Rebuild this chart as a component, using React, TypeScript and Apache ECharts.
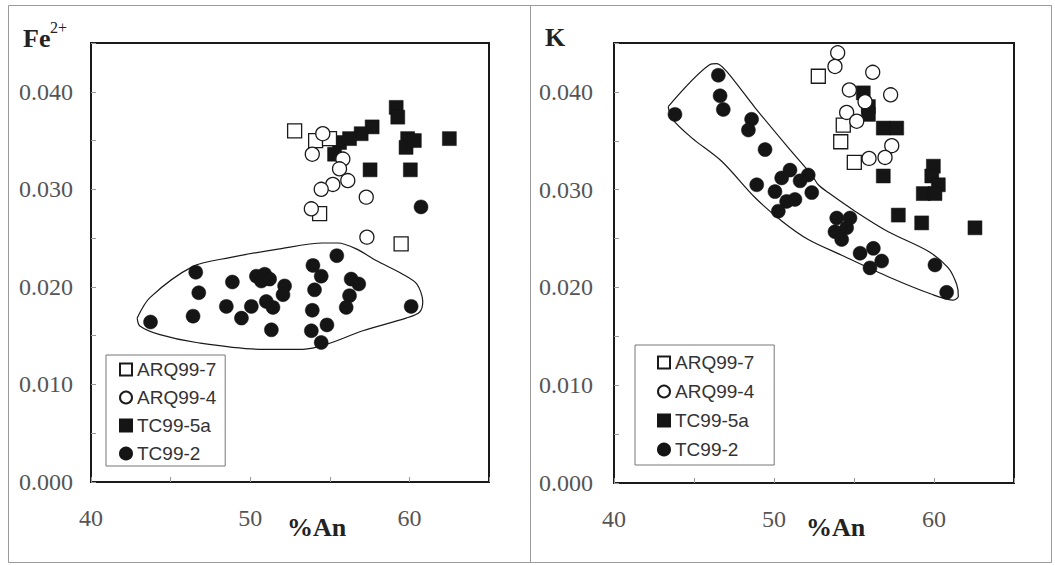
import { useEffect, useRef } from 'react';
import * as echarts from 'echarts';

// %An vs Fe2+ (left panel)
const feArq7 = [[52.79, 0.036], [54.11, 0.035], [54.98, 0.0352], [54.36, 0.0275], [59.48, 0.0244]];
const feArq4 = [
    [53.9, 0.0336], [54.56, 0.0357], [55.82, 0.0331], [55.61, 0.0321], [56.13, 0.0309],
    [55.19, 0.0305], [54.46, 0.03], [53.84, 0.028], [57.29, 0.0292], [57.33, 0.0251],
];
const feTc5a = [
    [59.17, 0.0384], [59.27, 0.0374], [57.66, 0.0364], [56.97, 0.0357], [56.24, 0.0352],
    [55.61, 0.0348], [55.3, 0.0336], [59.89, 0.0352], [59.79, 0.0343], [60.31, 0.035],
    [62.51, 0.0352], [57.53, 0.032], [60.06, 0.032],
];
const feTc2 = [
    [43.74, 0.0164], [46.58, 0.0215], [46.77, 0.0194], [46.41, 0.017], [48.88, 0.0205],
    [48.5, 0.018], [49.45, 0.0168], [50.07, 0.018], [50.39, 0.0211], [50.91, 0.0213],
    [50.7, 0.0206], [51.22, 0.0208], [51.01, 0.0185], [51.43, 0.0179], [51.33, 0.0156],
    [52.16, 0.0201], [52.06, 0.0192], [53.94, 0.0222], [54.46, 0.0211], [54.04, 0.0197],
    [53.9, 0.0176], [53.84, 0.0155], [54.82, 0.0161], [54.46, 0.0143], [55.44, 0.0232],
    [56.34, 0.0208], [56.82, 0.0203], [56.24, 0.0191], [56.03, 0.0179], [60.11, 0.018],
    [60.73, 0.0282],
];
const feOutline = [
    [42.9, 0.0168], [43.7, 0.0189], [46.41, 0.0221], [48.71, 0.023], [51.85, 0.0239],
    [54.56, 0.0245], [55.5, 0.0245], [56.66, 0.0239], [57.91, 0.0227], [59.58, 0.0213],
    [60.46, 0.0203], [60.84, 0.0185], [60.63, 0.0174], [59.79, 0.0168], [57.07, 0.0155],
    [54.78, 0.0141], [53.31, 0.0136], [50.8, 0.0136], [46.62, 0.0143], [44.33, 0.0151],
    [43.07, 0.016], [42.9, 0.0168],
];

// %An vs K (right panel)
const kArq7 = [[52.77, 0.0416], [54.33, 0.0366], [54.17, 0.0349], [55.02, 0.0328]];
const kArq4 = [
    [53.98, 0.044], [53.81, 0.0426], [56.17, 0.042], [54.71, 0.0402], [55.69, 0.039],
    [57.29, 0.0397], [54.54, 0.0379], [55.17, 0.037], [57.36, 0.0345], [56.94, 0.0333],
    [55.94, 0.0332],
];
const kTc5a = [
    [55.58, 0.0399], [55.9, 0.0385], [55.9, 0.0377], [56.83, 0.0363], [57.67, 0.0363],
    [56.83, 0.0314], [59.96, 0.0324], [59.86, 0.0314], [60.27, 0.0305], [59.33, 0.0296],
    [60.06, 0.0296], [57.77, 0.0274], [59.23, 0.0266], [62.56, 0.0261],
];
const kTc2 = [
    [43.81, 0.0377], [46.52, 0.0417], [46.63, 0.0396], [46.83, 0.0382], [48.6, 0.0372],
    [48.4, 0.0361], [49.44, 0.0341], [48.92, 0.0305], [51.0, 0.032], [50.48, 0.0312],
    [52.14, 0.0315], [51.63, 0.0309], [50.06, 0.0298], [52.36, 0.0297], [51.31, 0.029],
    [50.79, 0.0288], [50.27, 0.0278], [53.92, 0.0271], [54.75, 0.0271], [53.81, 0.0257],
    [54.54, 0.0261], [54.23, 0.0249], [55.38, 0.0235], [56.21, 0.024], [56.73, 0.0227],
    [56.0, 0.022], [60.06, 0.0223], [60.79, 0.0195],
];
const kOutline = [
    [43.39, 0.0385], [46.0, 0.0428], [46.42, 0.0429], [47.04, 0.0421], [48.81, 0.0384],
    [50.89, 0.0343], [52.36, 0.0315], [52.77, 0.0305], [53.39, 0.0297], [55.06, 0.0278],
    [57.14, 0.0257], [59.64, 0.0237], [60.89, 0.022], [61.42, 0.0203], [61.52, 0.0191],
    [61.21, 0.0187], [59.86, 0.0193], [57.14, 0.0211], [54.23, 0.0233], [52.14, 0.0249],
    [50.48, 0.0268], [48.81, 0.0292], [46.73, 0.0329], [44.86, 0.0353], [43.61, 0.0373],
    [43.39, 0.0385],
];

const sampleNames = ['ARQ99-7', 'ARQ99-4', 'TC99-5a', 'TC99-2'];
const xRange = [40, 65];
const yRange = [0, 0.045];

const SERIF = "'Liberation Serif', 'Times New Roman', serif";
const SANS = "'Liberation Sans', Arial, sans-serif";

const openStyle = { color: '#ffffff', borderColor: '#1a1a1a', borderWidth: 1.3, opacity: 1 };
const fillStyle = { color: '#151515', borderColor: '#151515', borderWidth: 0.5, opacity: 1 };

function makeAxes(idx: number, yMargin: number) {
    const xAxis = {
        type: 'value',
        gridIndex: idx,
        min: xRange[0],
        max: xRange[1],
        interval: 5,
        axisLine: { show: true, lineStyle: { color: '#1a1a1a', width: 2 } },
        axisTick: { show: true, inside: true, length: 5, lineStyle: { color: '#999' } },
        splitLine: { show: false },
        axisLabel: {
            margin: 24,
            color: '#555',
            fontFamily: SERIF,
            fontSize: 24,
            formatter: (v: number) => (v % 10 === 0 ? String(v) : ''),
        },
    };
    const yAxis = {
        type: 'value',
        gridIndex: idx,
        min: yRange[0],
        max: yRange[1],
        interval: 0.005,
        axisLine: { show: true, lineStyle: { color: '#1a1a1a', width: 2 } },
        axisTick: { show: true, inside: true, length: 5, lineStyle: { color: '#999' } },
        splitLine: { show: false },
        axisLabel: {
            margin: yMargin,
            color: '#555',
            fontFamily: SERIF,
            fontSize: 24,
            formatter: (v: number) => (Math.round(v * 1000) % 10 === 0 ? v.toFixed(3) : ''),
        },
    };
    return { xAxis, yAxis };
}

function makeSeries(idx: number, arq7: number[][], arq4: number[][], tc5a: number[][], tc2: number[][], outline: number[][]) {
    const base = { type: 'scatter', xAxisIndex: idx, yAxisIndex: idx, symbolSize: 14 };
    return [
        {
            type: 'line',
            xAxisIndex: idx,
            yAxisIndex: idx,
            data: outline,
            smooth: 0.3,
            symbol: 'none',
            silent: true,
            z: 1,
            lineStyle: { color: '#1a1a1a', width: 1.2 },
        },
        { ...base, name: sampleNames[2], data: tc5a, symbol: 'rect', itemStyle: fillStyle, z: 2 },
        { ...base, name: sampleNames[3], data: tc2, symbol: 'circle', itemStyle: fillStyle, z: 2 },
        { ...base, name: sampleNames[0], data: arq7, symbol: 'rect', itemStyle: openStyle, z: 3 },
        { ...base, name: sampleNames[1], data: arq4, symbol: 'circle', itemStyle: openStyle, z: 3 },
    ];
}

export default function App() {
    const chartRef = useRef<HTMLDivElement>(null);

    useEffect(() => {
        if (!chartRef.current) return;
        const chart = echarts.init(chartRef.current, null, { renderer: 'svg' });

        const left = makeAxes(0, 18);
        const right = makeAxes(1, 21);

        const legendBase = {
            orient: 'vertical',
            data: sampleNames,
            itemWidth: 12,
            itemHeight: 12,
            itemGap: 9,
            borderColor: '#777',
            borderWidth: 1,
            backgroundColor: '#fff',
            selectedMode: false,
            textStyle: { fontFamily: SANS, fontSize: 19, color: '#333' },
        };

        chart.setOption({
            animation: false,
            backgroundColor: '#fff',
            grid: [
                { left: 91, top: 43, width: 398, height: 439, show: true, borderColor: '#1a1a1a', borderWidth: 2 },
                { left: 614, top: 43, width: 400, height: 440, show: true, borderColor: '#1a1a1a', borderWidth: 2 },
            ],
            xAxis: [left.xAxis, right.xAxis],
            yAxis: [left.yAxis, right.yAxis],
            legend: [
                { ...legendBase, left: 106, top: 355, padding: [5, 9, 3, 13] },
                { ...legendBase, left: 635, top: 345, padding: [8, 20, 6, 22], itemGap: 10 },
            ],
            series: [
                ...makeSeries(0, feArq7, feArq4, feTc5a, feTc2, feOutline),
                ...makeSeries(1, kArq7, kArq4, kTc5a, kTc2, kOutline),
            ],
            graphic: [
                { type: 'rect', shape: { x: 8.5, y: 5.5, width: 1043, height: 557 }, style: { fill: 'none', stroke: '#9a9a9a', lineWidth: 1 }, silent: true },
                { type: 'line', shape: { x1: 530.5, y1: 5.5, x2: 530.5, y2: 562.5 }, style: { stroke: '#9a9a9a', lineWidth: 1 }, silent: true },
                { type: 'text', left: 23, top: 25, style: { text: 'Fe', font: `bold 26px ${SERIF}`, fill: '#222' } },
                { type: 'text', left: 50, top: 19, style: { text: '2+', font: `16px ${SERIF}`, fill: '#222' } },
                { type: 'text', left: 545, top: 24, style: { text: 'K', font: `bold 26px ${SERIF}`, fill: '#222' } },
                { type: 'text', left: 287, top: 514, style: { text: '%An', font: `bold 26px ${SERIF}`, fill: '#222' } },
                { type: 'text', left: 806, top: 514, style: { text: '%An', font: `bold 26px ${SERIF}`, fill: '#222' } },
            ],
        });

        return () => {
            chart.dispose();
        };
    }, []);

    return (
        <div
            ref={chartRef}
            style={{ position: 'fixed', left: 0, top: 0, width: '1055px', height: '565px', background: '#fff' }}
        />
    );
}
